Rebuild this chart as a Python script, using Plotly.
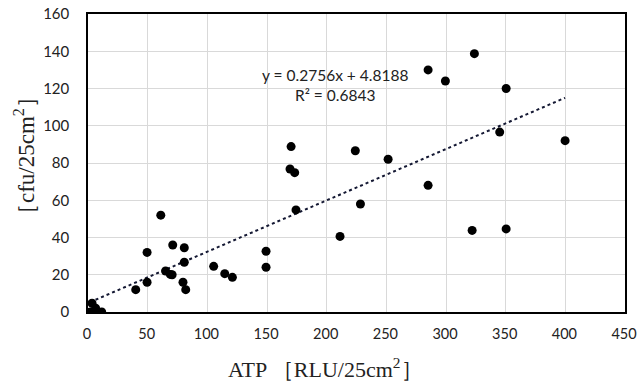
import plotly.graph_objects as go

atp = [1.7, 3.4, 6.4, 11.5, 40, 49.5, 49.5, 61, 65, 69, 70.5, 71, 80.7, 80.7, 79.6, 81.9,
       105.3, 114.6, 121, 149.2, 149.2, 174.3, 170.2, 169.3, 173.2, 211.2, 228.3, 224,
       251.5, 285, 285, 299.5, 323.8, 321.9, 345, 350.4, 350.4, 399.8]
cfu = [0, 4.7, 2, 0, 12, 32, 16, 52, 22, 20.2, 20, 36, 34.5, 26.7, 16, 12,
       24.5, 20.6, 18.6, 32.6, 24, 54.8, 88.8, 76.8, 74.8, 40.6, 58, 86.6,
       82, 68, 130, 124, 138.7, 43.8, 96.6, 120, 44.6, 92]

slope = 0.2756
intercept = 4.8188
trend_x = [min(atp), max(atp)]
trend_y = [slope * v + intercept for v in trend_x]

fig = go.Figure()
fig.add_trace(go.Scatter(x=trend_x, y=trend_y, mode="lines",
                         line=dict(color="#141833", width=2, dash="dot"),
                         showlegend=False, hoverinfo="skip"))
fig.add_trace(go.Scatter(x=atp, y=cfu, mode="markers",
                         marker=dict(color="black", size=9),
                         showlegend=False))

tfont = dict(family="Lato", size=15, color="#222")
xtfont = dict(family="Lato", size=14.5, color="#222")
afont = dict(family="Lato", size=15.5, color="#222")
fig.add_annotation(x=207, y=127.2, xref="x", yref="y",
                   text="y = 0.2756x + 4.8188", showarrow=False, font=afont,
                   xanchor="center", yanchor="middle")
fig.add_annotation(x=207, y=116.5, xref="x", yref="y",
                   text="R² = 0.6843", showarrow=False, font=afont,
                   xanchor="center", yanchor="middle")

# axis titles
fig.add_annotation(x=0.4432, y=-0.1876, xref="paper", yref="paper",
                   text="ATP ［RLU/25cm<sup>2</sup>］", showarrow=False,
                   xanchor="center", yanchor="middle",
                   font=dict(family="Liberation Serif", size=22, color="#222"))
fig.add_annotation(x=-0.1173, y=0.5235, xref="paper", yref="paper",
                   text="［cfu/25cm<sup>2</sup>］", showarrow=False, textangle=-90,
                   xanchor="center", yanchor="middle",
                   font=dict(family="Liberation Serif", size=23, color="#222"))

fig.update_layout(
    width=638, height=385,
    margin=dict(l=88, r=13, t=14, b=73, autoexpand=False),
    plot_bgcolor="white", paper_bgcolor="white",
    xaxis=dict(range=[0, 450], dtick=50, tick0=0, automargin=False,
               showgrid=True, gridcolor="#d9d9d9", gridwidth=1,
               showline=True, linecolor="black", linewidth=1.5, mirror=True,
               zeroline=False, ticks="", ticklabelstandoff=8, ticklabelshift=-1,
               tickfont=xtfont),
    yaxis=dict(range=[0, 160], dtick=20, tick0=0, automargin=False,
               showgrid=True, gridcolor="#d9d9d9", gridwidth=1,
               showline=True, linecolor="black", linewidth=1.5, mirror=True,
               zeroline=False, ticks="", ticklabelstandoff=14,
               tickfont=tfont),
)

fig.write_html("out.html", config={"displayModeBar": False},
               post_script="document.body.style.margin='0';document.body.style.overflow='hidden';")
